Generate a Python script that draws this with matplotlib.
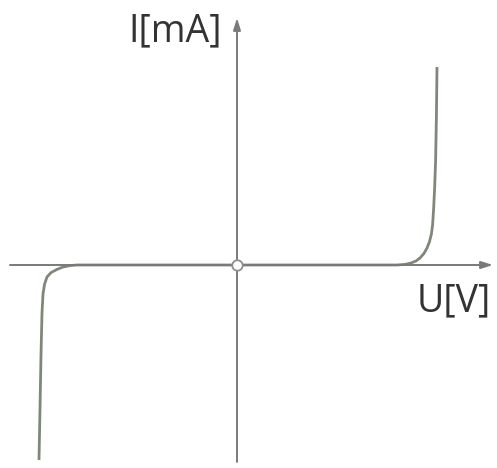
import matplotlib.pyplot as plt

# curve values (U in arbitrary volts, I in arbitrary mA)
u_right = [0.0, 7.4, 8.0, 8.4, 8.7, 8.95, 9.15, 9.35, 9.5, 9.62, 9.72, 9.78, 9.83, 9.88, 9.93, 9.97, 10.0]
i_right = [0.0, 0.0, 0.0, 0.03, 0.1, 0.2, 0.35, 0.58, 0.85, 1.15, 1.55, 2.0, 2.8, 3.8, 5.2, 7.4, 9.9]
u_left = [0.0, -7.4, -8.0, -8.35, -8.7, -9.0, -9.3, -9.5, -9.62, -9.7, -9.75, -9.8, -9.85, -9.9]
i_left = [0.0, 0.0, 0.0, -0.03, -0.1, -0.22, -0.38, -0.6, -0.95, -1.45, -2.4, -4.5, -7.2, -9.75]

axis_color = '#8e8e8e'
curve_color = '#7f8878'
text_color = '#333333'

fig = plt.figure(figsize=(4.97, 4.68), dpi=100)
ax = fig.add_axes([0, 0, 1, 1])
ax.set_xlim(-11.85, 13.0)
ax.set_ylim(-10.15, 13.25)
ax.axis('off')

# axes with arrows
arrow = dict(arrowstyle='-|>,head_length=0.7,head_width=0.22', color='#7a7a7a',
             lw=1.4, shrinkA=0, shrinkB=0)
ax.annotate('', xy=(12.8, 0), xytext=(-11.35, 0), arrowprops=arrow)
ax.annotate('', xy=(0, 12.35), xytext=(0, -9.85), arrowprops=arrow)

ax.plot(u_right, i_right, color=curve_color, lw=2.0, solid_capstyle='butt',
        solid_joinstyle='round')
ax.plot(u_left, i_left, color=curve_color, lw=2.0, solid_capstyle='butt',
        solid_joinstyle='round')

ax.plot([0], [0], marker='o', markersize=7.5, markerfacecolor='white',
        markeredgecolor=axis_color, markeredgewidth=1.3, zorder=5)

ax.text(-0.75, 12.65, 'I[mA]', ha='right', va='top', fontsize=27,
        family='Open Sans', color=text_color)
ax.text(12.7, -0.85, 'U[V]', ha='right', va='top', fontsize=27,
        family='Open Sans', color=text_color)

plt.savefig('out.png', dpi=100)
